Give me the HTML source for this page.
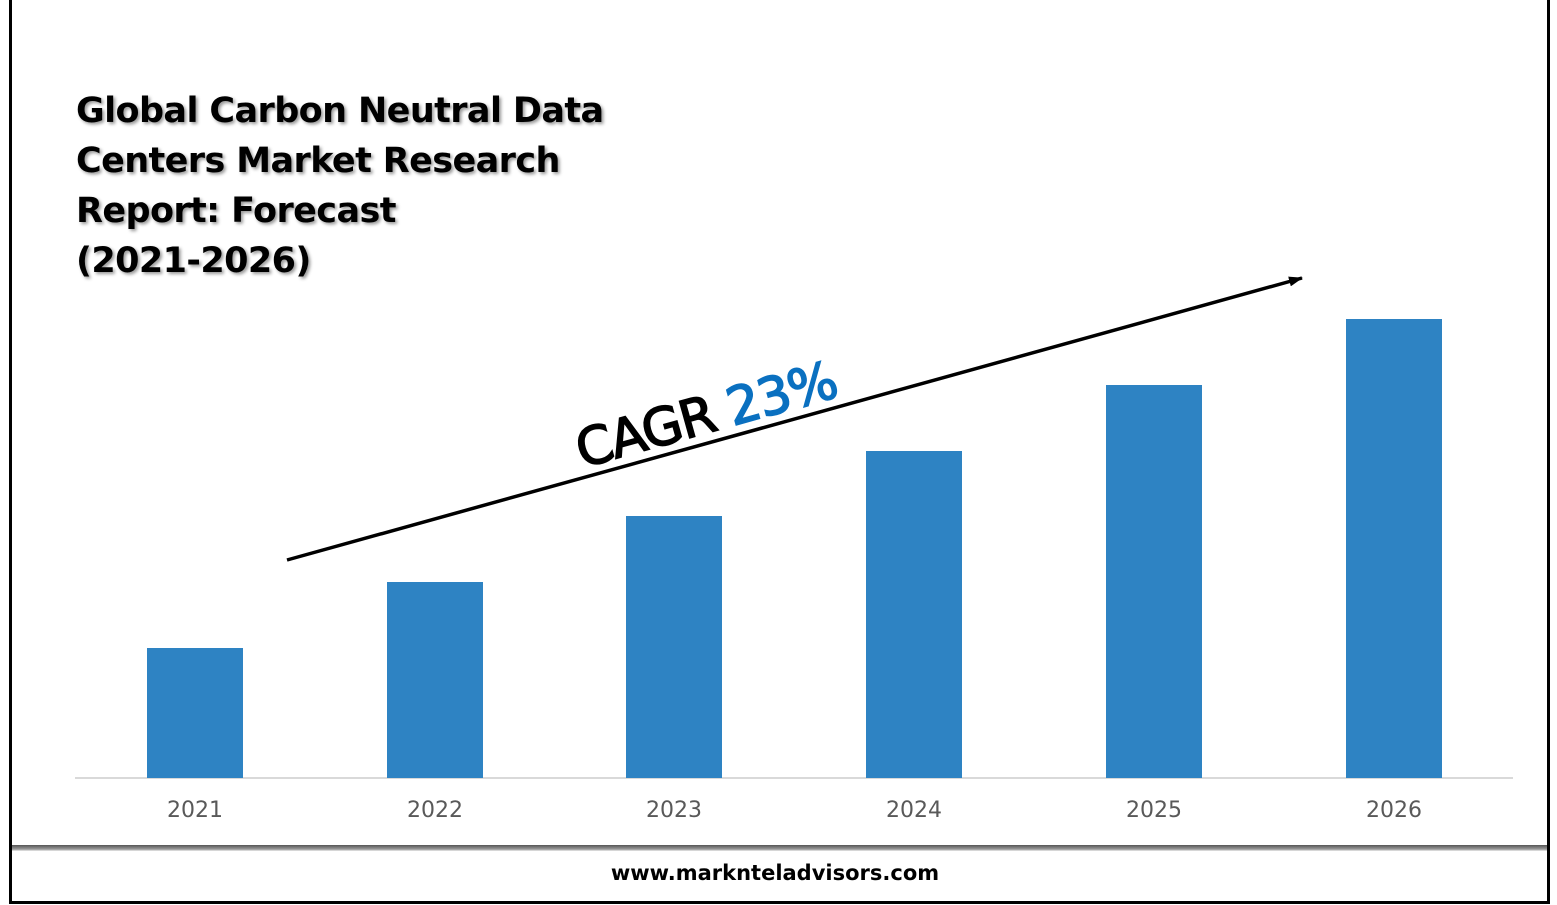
<!DOCTYPE html>
<html><head><style>
body{margin:0;background:#fff;width:1557px;height:905px;position:relative;overflow:hidden;font-family:"Liberation Sans",sans-serif}
.frame{position:absolute;left:9px;top:-3px;width:1535px;height:901px;border:3px solid #000}
.bar{position:absolute;width:96px;background:#2e83c3;bottom:127px}
.lbl{position:absolute;top:798px;width:96px;text-align:center;font-size:22px;color:#595959;font-family:"DejaVu Sans",sans-serif}
.title{position:absolute;left:76px;top:86px;font-size:35px;font-weight:bold;line-height:50px;color:#000;text-shadow:2px 2px 3px #999;font-family:"DejaVu Sans",sans-serif;letter-spacing:-0.6px}
</style></head><body>
<div class="frame"></div>
<div style="position:absolute;left:12px;top:845px;width:1535px;height:6px;background:linear-gradient(#555,#999 70%,#eee)"></div>
<div class="title">Global Carbon Neutral Data<br>Centers Market Research<br>Report: Forecast<br>(2021-2026)</div>
<div style="position:absolute;left:75px;top:777px;width:1438px;height:2px;background:#d9d9d9"></div>
<div class="bar" style="left:147px;top:648px"></div>
<div class="bar" style="left:387px;top:582px"></div>
<div class="bar" style="left:626px;top:516px"></div>
<div class="bar" style="left:866px;top:451px"></div>
<div class="bar" style="left:1106px;top:385px"></div>
<div class="bar" style="left:1346px;top:319px"></div>
<div class="lbl" style="left:147px">2021</div>
<div class="lbl" style="left:387px">2022</div>
<div class="lbl" style="left:626px">2023</div>
<div class="lbl" style="left:866px">2024</div>
<div class="lbl" style="left:1106px">2025</div>
<div class="lbl" style="left:1346px">2026</div>
<svg width="1557" height="905" style="position:absolute;left:0;top:0">
<defs><marker id="a" markerWidth="14" markerHeight="10" refX="13" refY="5" orient="auto" markerUnits="userSpaceOnUse"><path d="M0,0L14,5L0,10z" fill="#000"/></marker></defs>
<line x1="287" y1="560" x2="1302" y2="278" stroke="#000" stroke-width="3.5" marker-end="url(#a)"/>
<text transform="translate(582,468) rotate(-15.6)" font-family="DejaVu Sans,sans-serif" font-size="52" letter-spacing="-1.5"><tspan fill="#000" stroke="#000" stroke-width="1.6">CAGR </tspan><tspan fill="#0a70c0" stroke="#0a70c0" stroke-width="1.6">23%</tspan></text>
</svg>
<div style="position:absolute;left:0;width:1550px;top:861px;text-align:center;font-size:21px;font-weight:bold;font-family:'DejaVu Sans',sans-serif;color:#000">www.marknteladvisors.com</div>
</body></html>
